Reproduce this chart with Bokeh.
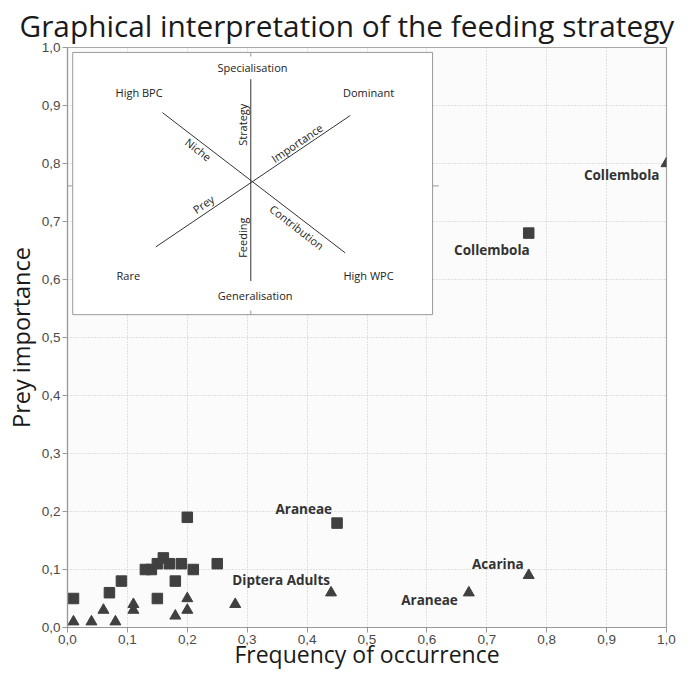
import math
from bokeh.plotting import figure
from bokeh.models import ColumnDataSource, FixedTicker
from bokeh.core.properties import value
from bokeh.embed import file_html
from bokeh.resources import INLINE

# ---------------- data ----------------
sq_x = [0.01, 0.07, 0.09, 0.13, 0.14, 0.15, 0.16, 0.17, 0.15, 0.18, 0.19, 0.20, 0.21, 0.25, 0.45, 0.77]
sq_y = [0.05, 0.06, 0.08, 0.10, 0.10, 0.11, 0.12, 0.11, 0.05, 0.08, 0.11, 0.19, 0.10, 0.11, 0.18, 0.68]

tri_x = [0.01, 0.04, 0.06, 0.08, 0.11, 0.11, 0.18, 0.20, 0.20, 0.28, 0.44, 0.67, 0.77, 1.00]
tri_y = [0.01, 0.01, 0.03, 0.01, 0.04, 0.03, 0.02, 0.05, 0.03, 0.04, 0.06, 0.06, 0.09, 0.80]

# labelled points: index into the series, and the name
sq_label_idx = [14, 15]
sq_label_txt = ["Araneae", "Collembola"]
tri_label_idx = [10, 11, 12, 13]
tri_label_txt = ["Diptera Adults", "Araneae", "Acarina", "Collembola"]

tick_vals = [0.0, 0.1, 0.2, 0.3, 0.4, 0.5, 0.6, 0.7, 0.8, 0.9, 1.0]
tick_labels = ["0,0", "0,1", "0,2", "0,3", "0,4", "0,5", "0,6", "0,7", "0,8", "0,9", "1,0"]

title_text = "Graphical interpretation of the feeding strategy"
x_title = "Frequency of occurrence"
y_title = "Prey importance"

# inset diagram texts
inset_words = ["Specialisation", "High BPC", "Dominant", "Rare", "High WPC", "Generalisation"]
axis_words = ["Strategy", "Feeding", "Niche", "Importance", "Prey", "Contribution"]

# ---------------- figure ----------------
p = figure(width=681, height=672, x_range=(0, 1), y_range=(0, 1),
           output_backend="svg", toolbar_location=None,
           min_border_left=67, min_border_right=15, min_border_top=47, min_border_bottom=45)

p.title.text = title_text
p.title.text_font = "Open Sans"
p.title.text_font_size = "29.8px"
p.title.text_font_style = "normal"
p.title.text_color = "#1a1a1a"
p.title.align = "left"
p.title.offset = -48
p.title.vertical_align = "top"
p.title.standoff = 0

p.background_fill_color = "#fbfbfb"
p.border_fill_color = "white"
p.outline_line_color = "#a8a8a8"
p.outline_line_width = 1.2

for ax in (p.xaxis[0], p.yaxis[0]):
    ax.ticker = FixedTicker(ticks=tick_vals)
    ax.major_label_overrides = dict(zip(tick_vals, tick_labels))
    ax.minor_tick_line_color = None
    ax.major_tick_in = 0
    ax.major_tick_out = 5
    ax.major_tick_line_color = "#999999"
    ax.axis_line_color = "#999999"
    ax.axis_line_width = 1.2
    ax.major_label_text_font = "Liberation Sans"
    ax.major_label_text_font_size = "13.5px"
    ax.major_label_text_color = "#4a4a4a"
    ax.major_label_standoff = 2
    ax.axis_label_text_font = "Open Sans"
    ax.axis_label_text_font_style = "normal"
    ax.axis_label_text_color = "#1a1a1a"

p.xaxis.axis_label = x_title
p.xaxis.axis_label_text_font_size = "23px"
p.xaxis.axis_label_standoff = -9
p.yaxis.axis_label = y_title
p.yaxis.axis_label_text_font_size = "23.5px"
p.yaxis.axis_label_standoff = 2

p.grid.grid_line_color = "#c4c4c4"
p.grid.grid_line_dash = "1 2"
p.grid.grid_line_width = 1
p.xgrid.ticker = FixedTicker(ticks=tick_vals)
p.ygrid.ticker = FixedTicker(ticks=tick_vals)

# ---------------- inset ----------------
ins_l, ins_r, ins_t, ins_b = 0.0087, 0.6095, 0.9915, 0.5394
cx = 0.306
p.quad(left=[ins_l], right=[ins_r], top=[ins_t], bottom=[ins_b],
       fill_color="white", line_color="#9a9a9a", line_width=1)

# cross lines
p.segment(x0=[cx, 0.1584, 0.1474], y0=[0.9454, 0.8878, 0.6562],
          x1=[cx, 0.4637, 0.4720], y1=[0.5974, 0.6459, 0.8827],
          line_color="#333333", line_width=1)
# small ticks on inset frame
p.segment(x0=[ins_l - 0.01, ins_r, cx, cx], y0=[0.7614, 0.7614, ins_t, ins_b],
          x1=[ins_l, ins_r + 0.01, cx, cx], y1=[0.7614, 0.7614, ins_t - 0.007, ins_b + 0.007],
          line_color="#9a9a9a", line_width=1)

p.text(x=[0.3088, 0.1195, 0.5026, 0.1016, 0.5026, 0.3133],
       y=[0.9647, 0.9226, 0.9226, 0.6067, 0.6067, 0.5718],
       text=inset_words, text_align="center", text_baseline="middle",
       text_font=value("Open Sans"), text_font_size="11px", text_color="#222222")

deg = math.pi / 180
p.text(x=[0.2927, 0.2927, 0.2185, 0.3830, 0.2269, 0.3830],
       y=[0.8668, 0.6721, 0.8241, 0.8355, 0.7302, 0.6903],
       text=axis_words, angle=[90 * deg, 90 * deg, -37.8 * deg, 34.3 * deg, 34.3 * deg, -37.8 * deg],
       text_align="center", text_baseline="middle",
       text_font=value("Open Sans"), text_font_size="11px", text_color="#222222")

# ---------------- data marks ----------------
p.scatter(sq_x, sq_y, marker="square", size=10.5, fill_color="#404040", line_color="#404040")
p.scatter(tri_x, tri_y, marker="triangle", size=11, fill_color="#404040", line_color="#404040")

# labels
sq_src = ColumnDataSource(dict(
    x=[sq_x[i] for i in sq_label_idx], y=[sq_y[i] for i in sq_label_idx], t=sq_label_txt,
    xo=[-5, 1], yo=[-14, 17]))
tri_src = ColumnDataSource(dict(
    x=[tri_x[i] for i in tri_label_idx], y=[tri_y[i] for i in tri_label_idx], t=tri_label_txt,
    xo=[-1, -11, -5, -7], yo=[-13, 7, -11, 11]))
for src in (sq_src, tri_src):
    p.text(x="x", y="y", text="t", x_offset="xo", y_offset="yo", source=src,
           text_align="right", text_baseline="middle",
           text_font=value("Open Sans"), text_font_size="13.5px", text_font_style="bold",
           text_color="#333333")

open("out.html", "w").write(file_html(p, INLINE))
